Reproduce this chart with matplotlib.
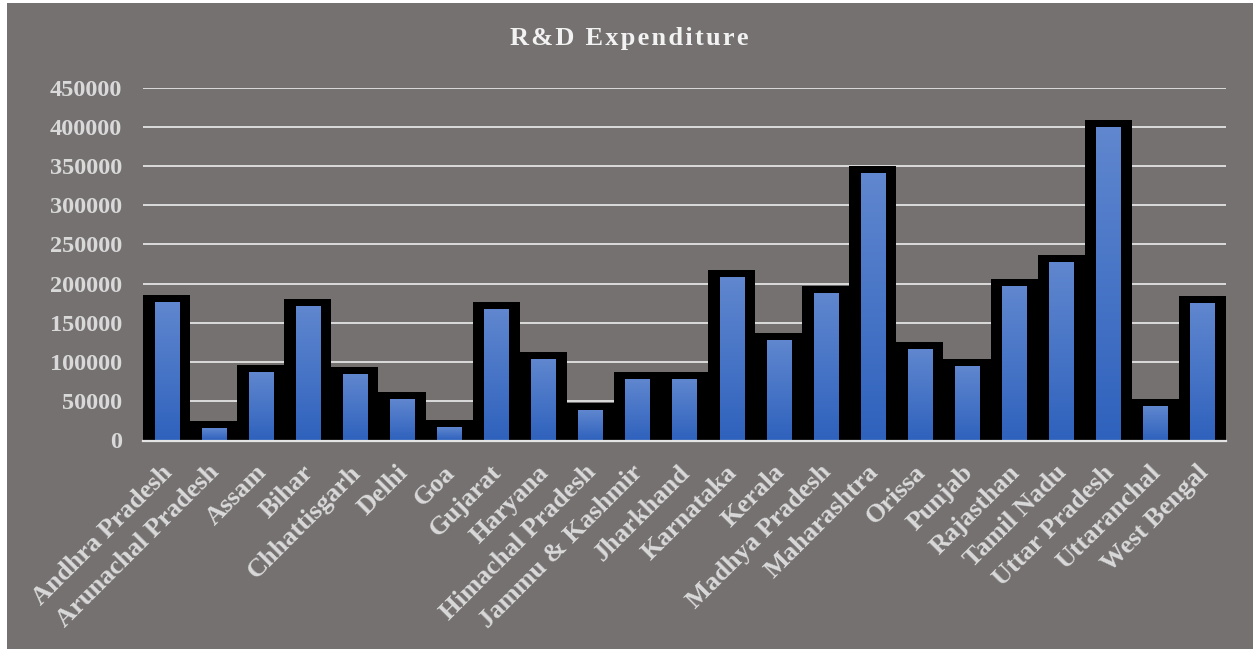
import matplotlib
matplotlib.use("Agg")
import matplotlib.pyplot as plt
import numpy as np
from matplotlib.colors import LinearSegmentedColormap
from matplotlib.patches import Rectangle
from matplotlib.transforms import ScaledTranslation

states = ["Andhra Pradesh", "Arunachal Pradesh", "Assam", "Bihar", "Chhattisgarh",
          "Delhi", "Goa", "Gujarat", "Haryana", "Himachal Pradesh", "Jammu & Kashmir",
          "Jharkhand", "Karnataka", "Kerala", "Madhya Pradesh", "Maharashtra", "Orissa",
          "Punjab", "Rajasthan", "Tamil Nadu", "Uttar Pradesh", "Uttaranchal", "West Bengal"]
expenditure = [175000, 15000, 86000, 170000, 83500, 52000, 16000, 166500, 102500,
               37500, 77000, 77000, 207000, 127000, 187000, 340000, 115500, 94000,
               196000, 226000, 398500, 43000, 174000]
yticks = list(range(0, 450001, 50000))

bg = "#767171"
label_col = "#D9D9D9"
blues = LinearSegmentedColormap.from_list("bar_grad", ["#2F62BD", "#6087CF"])

plt.rcParams["font.family"] = ["Liberation Serif", "DejaVu Serif"]
plt.rcParams["font.weight"] = "bold"

fig = plt.figure(figsize=(12.53, 6.49), dpi=100)
fig.patch.set_facecolor("white")
fig.patches.append(Rectangle((7 / 1253, 0), 1 - 7 / 1253, 1 - 3 / 649,
                             transform=fig.transFigure, facecolor=bg,
                             edgecolor="none", zorder=-5))

ax = fig.add_axes([143 / 1253, (649 - 440.5) / 649, (1226 - 143) / 1253, 353 / 649])
ax.set_facecolor("none")

x = np.arange(len(states))
ymax = 450000
# black outline sticks out ~8 px above each bar
pad = 8 * ymax / 353.0

ax.bar(x, [v + pad for v in expenditure], width=1.0, color="black", zorder=2)

grad = np.linspace(0, 1, 256).reshape(-1, 1)
w = 0.51
for xi, v in zip(x, expenditure):
    ax.imshow(grad, cmap=blues, origin="lower", aspect="auto",
              extent=[xi - w / 2, xi + w / 2, 0, v], zorder=3)

ax.set_xlim(-0.5, len(states) - 0.5)
ax.set_ylim(0, ymax)
ax.set_yticks(yticks)
ax.set_yticklabels([str(t) for t in yticks])
ax.grid(axis="y", color="#E4E4E4", linewidth=1.3, zorder=1)
ax.set_axisbelow(True)
ax.axhline(0, color="#E4E4E4", linewidth=1.6, zorder=4, clip_on=False)

for s in ax.spines.values():
    s.set_visible(False)

ax.tick_params(axis="y", length=0, pad=15, labelsize=17.5, labelcolor=label_col)
ax.tick_params(axis="x", length=0, pad=14.5, labelsize=19, labelcolor=label_col)
ax.set_xticks(x)
ax.set_xticklabels(states, rotation=45, ha="right", va="top", rotation_mode="anchor")
shift = ScaledTranslation(-6 / 100, 0, fig.dpi_scale_trans)
for lab in ax.get_xticklabels():
    lab.set_transform(lab.get_transform() + shift)

fig.text(0.5 * (507 + 752) / 1253, 1 - 39 / 649, "\u200a".join("R&D Expenditure"),
         ha="center", va="center", fontsize=19, fontweight="bold", color="#F2F2F2")

fig.savefig("out.png", dpi=100, facecolor=fig.get_facecolor())
